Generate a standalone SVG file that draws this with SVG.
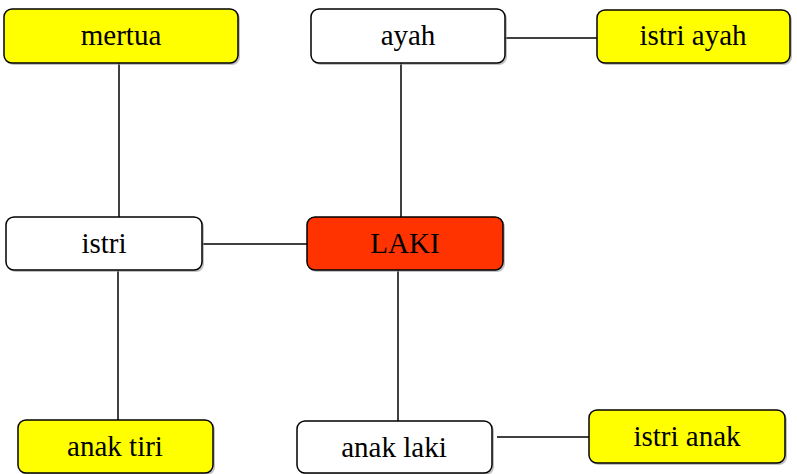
<svg xmlns="http://www.w3.org/2000/svg" width="797" height="474" viewBox="0 0 797 474">
<style>
.box{stroke:#000;stroke-width:1.5}
.sh{fill:#9a9a9a;opacity:0.6}
.y{fill:#ffff00}
.w{fill:#ffffff}
.r{fill:#ff3300}
.t{font-family:"Liberation Serif","Times New Roman",serif;font-size:29px;fill:#000;text-anchor:middle}
.c{stroke:#000;stroke-width:1.5;fill:none}
</style>
<rect width="797" height="474" fill="#fff"/>
<g id="connectors">
<line class="c" x1="119" y1="63" x2="119" y2="217"/>
<line class="c" x1="401" y1="63" x2="401" y2="217"/>
<line class="c" x1="505" y1="38" x2="597" y2="38"/>
<line class="c" x1="202" y1="244" x2="307" y2="244"/>
<line class="c" x1="118" y1="270" x2="118" y2="420"/>
<line class="c" x1="398" y1="270" x2="398" y2="421"/>
<line class="c" x1="497" y1="437" x2="589" y2="437"/>
</g>
<g id="mertua">
<rect class="sh" x="6" y="11" width="234" height="54" rx="8"/>
<rect class="box y" x="4" y="9" width="234" height="54" rx="8"/>
<text class="t" x="121" y="45">mertua</text>
</g>
<g id="ayah">
<rect class="sh" x="313" y="11" width="194" height="54" rx="8"/>
<rect class="box w" x="311" y="9" width="194" height="54" rx="8"/>
<text class="t" x="408" y="45">ayah</text>
</g>
<g id="istri-ayah">
<rect class="sh" x="599" y="12" width="193" height="53" rx="8"/>
<rect class="box y" x="597" y="10" width="193" height="53" rx="8"/>
<text class="t" x="693" y="45">istri ayah</text>
</g>
<g id="istri">
<rect class="sh" x="8" y="219" width="196" height="53" rx="8"/>
<rect class="box w" x="6" y="217" width="196" height="53" rx="8"/>
<text class="t" x="104" y="253">istri</text>
</g>
<g id="laki">
<rect class="sh" x="309" y="219" width="196" height="53" rx="8"/>
<rect class="box r" x="307" y="217" width="196" height="53" rx="8"/>
<text class="t" x="405" y="253">LAKI</text>
</g>
<g id="anak-tiri">
<rect class="sh" x="20" y="422" width="195" height="53" rx="8"/>
<rect class="box y" x="18" y="420" width="195" height="53" rx="8"/>
<text class="t" x="115" y="456">anak tiri</text>
</g>
<g id="anak-laki">
<rect class="sh" x="299" y="423" width="195" height="52" rx="8"/>
<rect class="box w" x="297" y="421" width="195" height="52" rx="8"/>
<text class="t" x="394" y="457">anak laki</text>
</g>
<g id="istri-anak">
<rect class="sh" x="591" y="412" width="196" height="53" rx="8"/>
<rect class="box y" x="589" y="410" width="196" height="53" rx="8"/>
<text class="t" x="687" y="446">istri anak</text>
</g>
</svg>
